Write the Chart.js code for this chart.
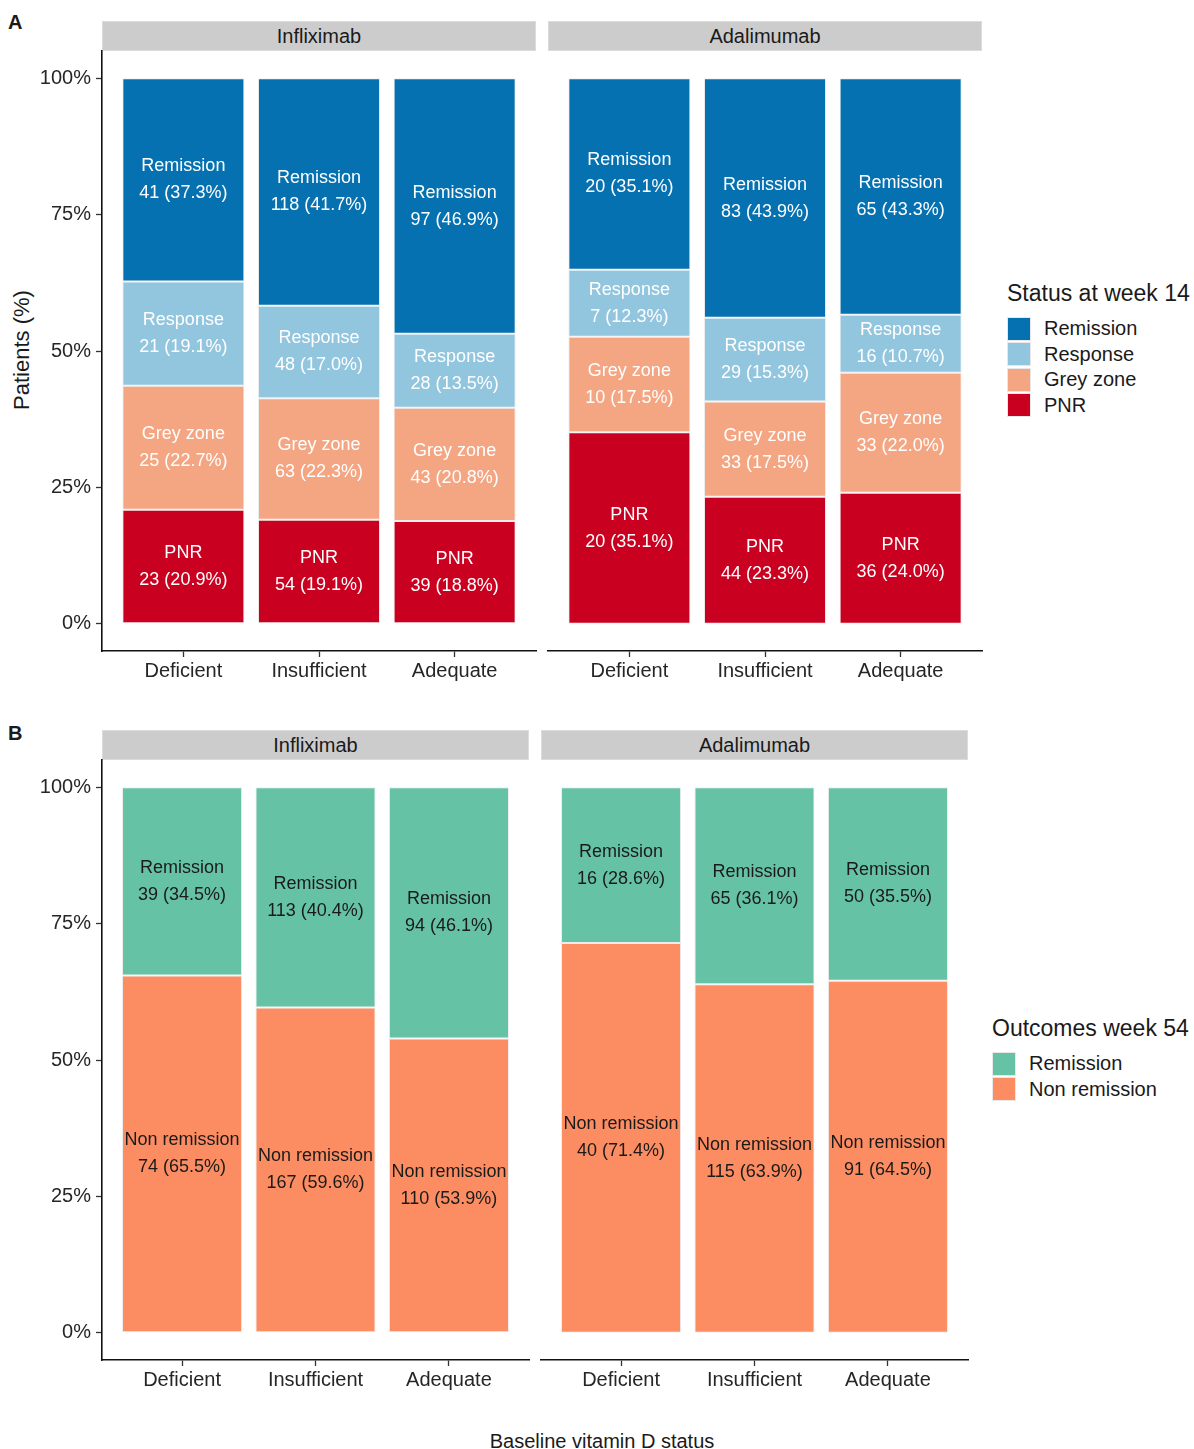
<!DOCTYPE html>
<html>
<head>
<meta charset="utf-8">
<script src="https://cdn.jsdelivr.net/npm/chart.js@4.4.1/dist/chart.umd.min.js"></script>
<style>
  body { margin: 0; background: #fff; font-family: 'Liberation Sans', Arial, sans-serif; color: #1a1a1a; }
  #page { position: relative; width: 1194px; height: 1449px; overflow: hidden; }
  .box { position: absolute; }
  .strip { position: absolute; background: #cccccc; border: 1px solid #dcdcdc; box-sizing: border-box;
           font-size: 20px; text-align: center; line-height: 28px; color: #1a1a1a; }
  .tag { position: absolute; font-weight: bold; font-size: 20px; line-height: 20px; }
  .ytitle { position: absolute; font-size: 22px; white-space: nowrap; transform: translate(-50%, -50%) rotate(-90deg); }
  .xtitle { position: absolute; font-size: 20px; white-space: nowrap; transform: translate(-50%, -50%); }
  .legend { position: absolute; }
  .legend .ttl { font-size: 23px; line-height: 26px; margin-bottom: 10px; white-space: nowrap; }
  .legend .row { height: 25.5px; display: flex; align-items: center; font-size: 20px; white-space: nowrap; }
  .legend .key { width: 24px; height: 24px; box-sizing: border-box; border: 1px solid #e8e8e8; margin-right: 13px; }
</style>
</head>
<body>
<div id="page">
  <div class="tag" style="left:8px; top:12px;">A</div>
  <div class="tag" style="left:8px; top:723px;">B</div>

  <div class="strip" style="left:102px; top:21px; width:434px; height:30px;">Infliximab</div>
  <div class="strip" style="left:548px; top:21px; width:434px; height:30px;">Adalimumab</div>
  <div class="strip" style="left:102px; top:730px; width:427px; height:30px;">Infliximab</div>
  <div class="strip" style="left:541px; top:730px; width:427px; height:30px;">Adalimumab</div>

  <div class="ytitle" style="left:22px; top:350px;">Patients (%)</div>
  <div class="xtitle" style="left:602px; top:1441px;">Baseline vitamin D status</div>

  <div class="box" style="left:0px; top:31px;"><canvas id="a_ifx" width="540" height="670"></canvas></div>
  <div class="box" style="left:544px; top:31px;"><canvas id="a_ada" width="442" height="670"></canvas></div>
  <div class="box" style="left:0px; top:740px;"><canvas id="b_ifx" width="533" height="670"></canvas></div>
  <div class="box" style="left:537px; top:740px;"><canvas id="b_ada" width="435" height="670"></canvas></div>

  <div class="legend" id="legend_a" style="left:1007px; top:280px;"></div>
  <div class="legend" id="legend_b" style="left:992px; top:1015px;"></div>
</div>

<script>
// categories (x) and tick labels
const categories = ["Deficient", "Insufficient", "Adequate"];
const y_ticks = [0, 25, 50, 75, 100];

// panel A: status at week 14, stacked bottom -> top
const status_w14 = ["PNR", "Grey zone", "Response", "Remission"];
const status_w14_colors = ["#ca0020", "#f4a582", "#92c5de", "#0571b0"];
const ifx_pnr = [23, 54, 39];
const ifx_grey = [25, 63, 43];
const ifx_response = [21, 48, 28];
const ifx_remission = [41, 118, 97];
const ada_pnr = [20, 44, 36];
const ada_grey = [10, 33, 33];
const ada_response = [7, 29, 16];
const ada_remission = [20, 83, 65];

// panel B: outcomes week 54, stacked bottom -> top
const outcome_w54 = ["Non remission", "Remission"];
const outcome_w54_colors = ["#fc8d62", "#66c2a5"];
const ifx_w54_non = [74, 167, 110];
const ifx_w54_rem = [39, 113, 94];
const ada_w54_non = [40, 115, 91];
const ada_w54_rem = [16, 65, 50];

Chart.defaults.font.family = "'Liberation Sans', Arial, sans-serif";
Chart.defaults.color = "#262626";

// writes "name" and "n (pct%)" in the middle of every segment
const segment_labels = {
  id: 'segment_labels',
  afterDatasetsDraw(chart, args, opts) {
    const ctx = chart.ctx;
    ctx.save();
    ctx.font = "18px 'Liberation Sans', Arial, sans-serif";
    ctx.fillStyle = opts.color;
    ctx.textAlign = 'center';
    ctx.textBaseline = 'middle';
    chart.data.datasets.forEach((ds, i) => {
      chart.getDatasetMeta(i).data.forEach((bar, j) => {
        const mid = (bar.y + bar.base) / 2;
        ctx.fillText(ds.label, bar.x, mid - 13.5);
        ctx.fillText(ds.counts[j] + " (" + ds.data[j].y.toFixed(1) + "%)", bar.x, mid + 13.5);
      });
    });
    ctx.restore();
  }
};

function make_chart(canvas_id, groups, colors, series, show_y, text_color) {
  const totals = categories.map((c, j) => series.reduce((s, arr) => s + arr[j], 0));
  const datasets = series.map((arr, i) => ({
    label: groups[i],
    counts: arr,
    data: arr.map((v, j) => ({ x: j + 1, y: v / totals[j] * 100 })),
    backgroundColor: colors[i],
    borderColor: 'rgba(235,235,235,0.9)',
    borderWidth: 1,
    borderSkipped: false,
    barPercentage: 0.9,
    categoryPercentage: 1.0
  }));

  return new Chart(document.getElementById(canvas_id), {
    type: 'bar',
    data: { datasets: datasets },
    plugins: [segment_labels],
    options: {
      responsive: false,
      animation: false,
      layout: { padding: { top: 20, right: 4, bottom: 0, left: show_y ? 0 : 4 } },
      plugins: {
        legend: { display: false },
        tooltip: { enabled: false },
        segment_labels: { color: text_color }
      },
      scales: {
        x: {
          type: 'linear',
          stacked: true,
          min: 0.4,
          max: 3.6,
          offset: false,
          afterBuildTicks: s => { s.ticks = categories.map((c, j) => ({ value: j + 1 })); },
          afterFit: s => { s.height = 50; },
          ticks: {
            callback: (v, idx) => categories[idx],
            font: { size: 20 },
            color: '#262626',
            padding: 2,
            maxRotation: 0
          },
          grid: { offset: false, drawOnChartArea: false, drawTicks: true, tickLength: 6, tickColor: '#333', tickWidth: 1.3 },
          border: { display: true, color: '#111', width: 1.6 }
        },
        y: {
          display: show_y,
          stacked: true,
          min: -5,
          max: 105,
          afterBuildTicks: s => { s.ticks = y_ticks.map(v => ({ value: v })); },
          afterFit: s => { if (show_y) s.width = 102; },
          ticks: {
            callback: v => v + "%",
            font: { size: 20 },
            color: '#262626',
            padding: 5
          },
          grid: { drawOnChartArea: false, drawTicks: true, tickLength: 6, tickColor: '#333', tickWidth: 1.3 },
          border: { display: true, color: '#111', width: 1.6 }
        }
      }
    }
  });
}

function make_legend(el_id, title, groups, colors) {
  const el = document.getElementById(el_id);
  let html = '<div class="ttl">' + title + '</div>';
  // legend lists the top segment first
  for (let i = groups.length - 1; i >= 0; i--) {
    html += '<div class="row"><div class="key" style="background:' + colors[i] + '"></div>' + groups[i] + '</div>';
  }
  el.innerHTML = html;
}

make_chart('a_ifx', status_w14, status_w14_colors, [ifx_pnr, ifx_grey, ifx_response, ifx_remission], true, '#ffffff');
make_chart('a_ada', status_w14, status_w14_colors, [ada_pnr, ada_grey, ada_response, ada_remission], false, '#ffffff');
make_chart('b_ifx', outcome_w54, outcome_w54_colors, [ifx_w54_non, ifx_w54_rem], true, '#1a1a1a');
make_chart('b_ada', outcome_w54, outcome_w54_colors, [ada_w54_non, ada_w54_rem], false, '#1a1a1a');

make_legend('legend_a', 'Status at week 14', status_w14, status_w14_colors);
make_legend('legend_b', 'Outcomes week 54', outcome_w54, outcome_w54_colors);
</script>
</body>
</html>
